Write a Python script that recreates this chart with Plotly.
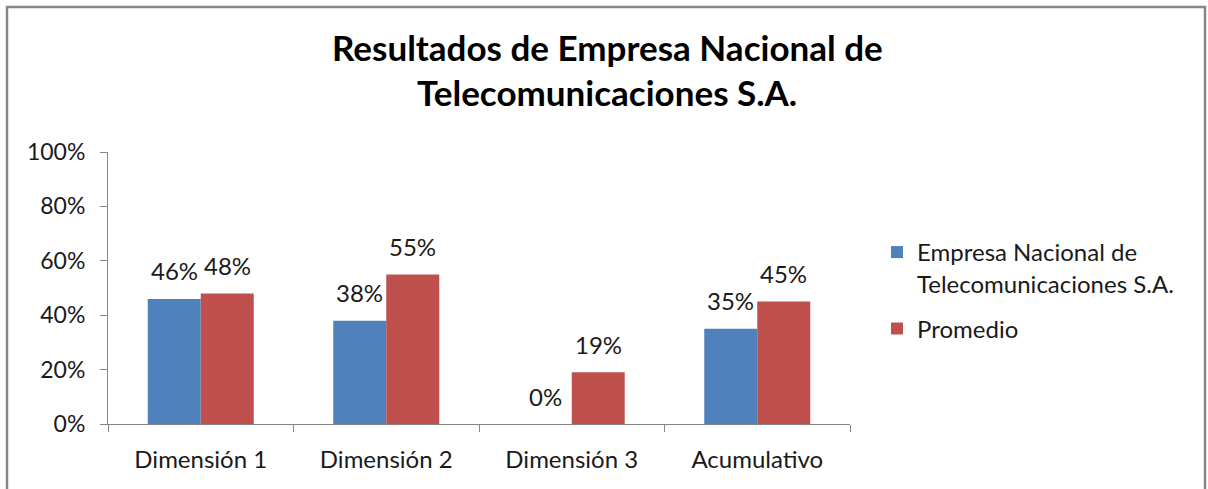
import plotly.graph_objects as go

categories = ["Dimensión 1", "Dimensión 2", "Dimensión 3", "Acumulativo"]
empresa = [0.46, 0.38, 0.0, 0.35]
promedio = [0.48, 0.55, 0.19, 0.45]
series_names = ["Empresa Nacional de<br>Telecomunicaciones S.A.", "Promedio"]
title_lines = ["Resultados de Empresa Nacional de", "Telecomunicaciones S.A."]
y_ticks = [0, 0.2, 0.4, 0.6, 0.8, 1.0]

BLUE = "#4F81BD"
RED = "#C0504D"
FONT = "Lato, Carlito, Calibri, sans-serif"
TXT = "#1a1a1a"

W, H = 1208, 489
L, R, T, B = 108, 358, 152, 65
pw, ph = W - L - R, H - T - B

fig = go.Figure()
fig.add_trace(go.Bar(x=categories, y=empresa, name=series_names[0], legendgroup="g1",
                     marker=dict(color=BLUE, line=dict(width=0))))
fig.add_trace(go.Bar(x=categories, y=promedio, name=series_names[1], legendgroup="g2",
                     marker=dict(color=RED, line=dict(width=0))))

annotations = []
for vals, shift in ((empresa, -26.5), (promedio, 26.5)):
    for c, v in zip(categories, vals):
        annotations.append(dict(x=c, y=v, xref="x", yref="y", text=f"{v:.0%}",
                                showarrow=False, xshift=shift, yshift=28,
                                yanchor="middle", xanchor="center",
                                font=dict(family=FONT, size=24, color=TXT)))

def px_to_paper_x(px):
    return (px - L) / pw

def px_to_paper_y(py):
    return (H - B - py) / ph

for line, ypx in zip(title_lines, (47, 92)):
    annotations.append(dict(x=px_to_paper_x(607), y=px_to_paper_y(ypx), xref="paper", yref="paper",
                            text=f"<b>{line}</b>", showarrow=False, xanchor="center", yanchor="middle",
                            font=dict(family=FONT, size=35, color="#000000")))

fig.update_layout(
    width=W, height=H,
    margin=dict(l=L, r=R, t=T, b=B, pad=0),
    paper_bgcolor="white", plot_bgcolor="white",
    barmode="group", bargap=0.4286, bargroupgap=0,
    font=dict(family=FONT, size=24, color=TXT),
    showlegend=True,
    legend=dict(x=px_to_paper_x(877), y=px_to_paper_y(230), xanchor="left", yanchor="top",
                valign="top", font=dict(family=FONT, size=24, color=TXT),
                traceorder="grouped", tracegroupgap=11, itemwidth=30, bgcolor="rgba(0,0,0,0)"),
    annotations=annotations,
    shapes=[dict(type="rect", xref="paper", yref="paper",
                 x0=px_to_paper_x(7), x1=px_to_paper_x(1205),
                 y0=px_to_paper_y(520), y1=px_to_paper_y(7),
                 line=dict(color="#878787", width=2.5), fillcolor="rgba(0,0,0,0)", layer="below")],
)
fig.update_xaxes(showline=True, linecolor="#868686", linewidth=1, ticks="outside", tickson="boundaries",
                 ticklen=7, tickcolor="#868686", showgrid=False, tickfont=dict(size=24),
                 ticklabelstandoff=14)
fig.update_yaxes(range=[0, 1], tickvals=y_ticks, tickformat=".0%", showline=True, linecolor="#868686",
                 linewidth=1, ticks="outside", ticklen=7, tickcolor="#868686", showgrid=False,
                 zeroline=False, tickfont=dict(size=23), ticklabelstandoff=10)

fig.write_html("out.html", config={"displayModeBar": False},
               post_script="document.body.style.margin='0';document.body.style.overflow='hidden';")
